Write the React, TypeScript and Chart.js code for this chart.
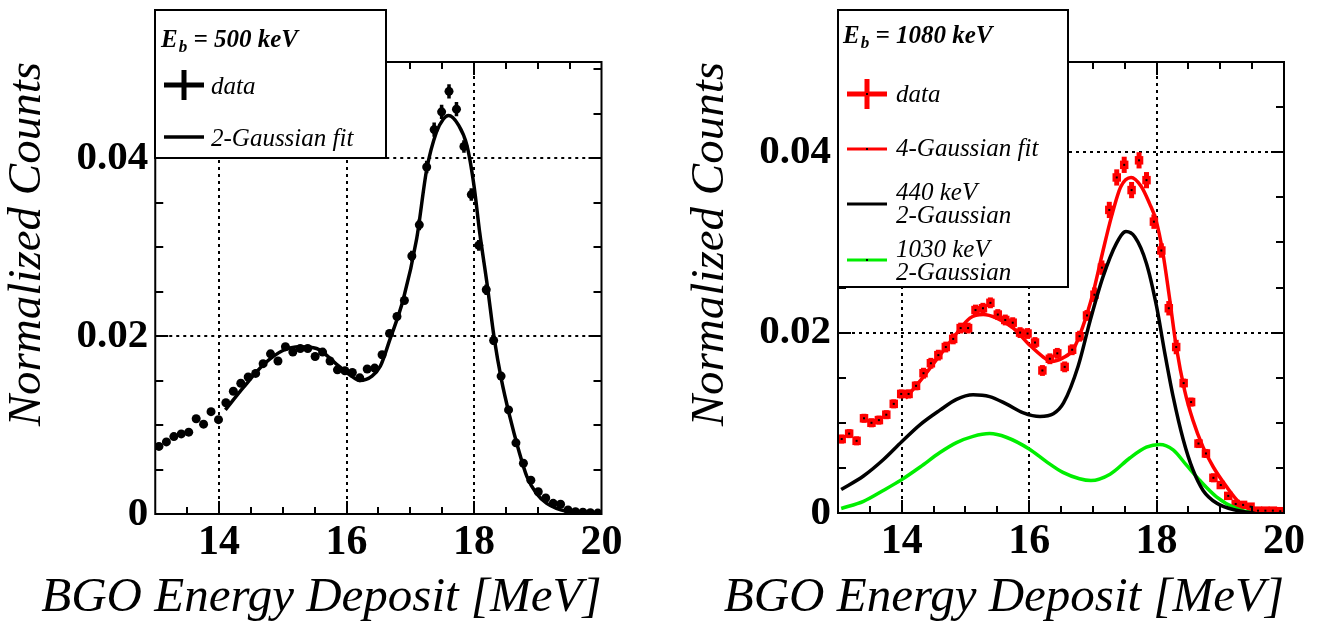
import React, { useEffect, useRef } from "react";
import { Chart, registerables } from "chart.js";
Chart.register(...registerables);

const FONT = "'Liberation Serif', 'Times New Roman', serif";

// Bin centres (MeV), shared by both histograms
const BIN_X = [
  13.058, 13.175, 13.292, 13.408, 13.525, 13.642, 13.758, 13.875, 13.992, 14.108,
  14.225, 14.342, 14.458, 14.575, 14.692, 14.808, 14.925, 15.042, 15.158, 15.275,
  15.392, 15.508, 15.625, 15.742, 15.858, 15.975, 16.092, 16.208, 16.325, 16.442,
  16.558, 16.675, 16.792, 16.908, 17.025, 17.142, 17.258, 17.375, 17.492, 17.608,
  17.725, 17.842, 17.958, 18.075, 18.192, 18.308, 18.425, 18.542, 18.658, 18.775,
  18.892, 19.008, 19.125, 19.242, 19.358, 19.475, 19.592, 19.708, 19.825, 19.942,
];

// Left panel: E_b = 500 keV
const LEFT_DATA = [
  0.0076, 0.0081, 0.0087, 0.009, 0.0092, 0.0107, 0.0101, 0.0115, 0.0106, 0.0125,
  0.0138, 0.0147, 0.0154, 0.0158, 0.0169, 0.018, 0.0172, 0.0188, 0.0182, 0.0186,
  0.0186, 0.0177, 0.0182, 0.0172, 0.0162, 0.0161, 0.0159, 0.0153, 0.0163, 0.0164,
  0.0179, 0.0203, 0.0222, 0.024, 0.029, 0.0325, 0.039, 0.0432, 0.0452, 0.0475,
  0.0455, 0.0413, 0.0359, 0.0302, 0.0252, 0.0195, 0.0155, 0.0117, 0.008, 0.0057,
  0.0038, 0.0025, 0.0018, 0.0012, 0.0011, 0.00045, 0.00026, 0.0002, 0.00015, 0.0001,
];
const LEFT_ERR = [
  0.0003, 0.0003, 0.0003, 0.0003, 0.0003, 0.0003, 0.0003, 0.0003, 0.0003, 0.0003,
  0.0004, 0.0004, 0.0004, 0.0004, 0.0004, 0.0004, 0.0004, 0.0004, 0.0004, 0.0004,
  0.0004, 0.0004, 0.0004, 0.0004, 0.0004, 0.0004, 0.0004, 0.0004, 0.0004, 0.0004,
  0.0004, 0.0004, 0.0004, 0.0004, 0.0006, 0.0006, 0.0007, 0.0008, 0.0008, 0.0008,
  0.0008, 0.0007, 0.0007, 0.0006, 0.0006, 0.0005, 0.0004, 0.0004, 0.0004, 0.0004,
  0.0004, 0.0002, 0.0002, 0.0002, 0.0002, 0.0002, 0.0002, 0.0002, 0.0002, 0.0002,
];
const LEFT_FIT_X = [
  14.1, 14.38, 14.7, 15.01, 15.27, 15.53, 15.85, 16.06, 16.21, 16.4, 16.53, 16.68,
  16.89, 17.1, 17.26, 17.41, 17.52, 17.6, 17.75, 17.89, 18.0, 18.09, 18.21, 18.32,
  18.43, 18.56, 18.7, 18.83, 18.98, 19.14, 19.45, 19.98,
];
const LEFT_FIT_Y = [
  0.0117, 0.0142, 0.0168, 0.0184, 0.0188, 0.0186, 0.0168, 0.0156, 0.015, 0.0155, 0.0166, 0.0196,
  0.0241, 0.0309, 0.0388, 0.0429, 0.0444, 0.0448, 0.0438, 0.0414, 0.0369, 0.0316, 0.0256, 0.0196,
  0.0151, 0.011, 0.0072, 0.0042, 0.0023, 0.0012, 0.0003, 0.0,
];

// Right panel: E_b = 1080 keV
const RIGHT_DATA = [
  0.0082, 0.0088, 0.008, 0.0105, 0.01, 0.0103, 0.0109, 0.0121, 0.0132, 0.0132,
  0.0141, 0.0155, 0.0166, 0.0175, 0.0184, 0.0193, 0.0205, 0.0205, 0.0225, 0.0227,
  0.0233, 0.022, 0.0214, 0.0211, 0.02, 0.0199, 0.0189, 0.0158, 0.0171, 0.0177,
  0.0162, 0.0181, 0.0196, 0.0219, 0.0242, 0.0272, 0.0336, 0.0372, 0.0386, 0.0358,
  0.0391, 0.0369, 0.0323, 0.0291, 0.0227, 0.0184, 0.0144, 0.0123, 0.0077, 0.0066,
  0.0039, 0.0031, 0.0019, 0.001, 0.0009, 0.0007, 0.00026, 0.00026, 0.00026, 0.0002,
];
const RIGHT_ERR = [
  0.0005, 0.0005, 0.0005, 0.0005, 0.0005, 0.0005, 0.0005, 0.0005, 0.0005, 0.0005,
  0.0005, 0.0006, 0.0006, 0.0006, 0.0006, 0.0006, 0.0006, 0.0006, 0.0006, 0.0006,
  0.0006, 0.0006, 0.0006, 0.0006, 0.0006, 0.0006, 0.0006, 0.0006, 0.0006, 0.0006,
  0.0006, 0.0006, 0.0006, 0.0006, 0.0008, 0.0008, 0.0009, 0.0009, 0.0009, 0.0009,
  0.0009, 0.0009, 0.0008, 0.0008, 0.0008, 0.0008, 0.0005, 0.0005, 0.0005, 0.0005,
  0.0005, 0.0003, 0.0003, 0.0003, 0.0003, 0.0003, 0.0003, 0.0003, 0.0003, 0.0003,
];
const FIT4_X = [
  14.06, 14.34, 14.6, 14.86, 15.07, 15.28, 15.49, 15.75, 16.01, 16.22, 16.35, 16.53,
  16.69, 16.84, 17.0, 17.15, 17.29, 17.44, 17.6, 17.76, 17.89, 17.99, 18.1, 18.2,
  18.31, 18.44, 18.57, 18.73, 18.89, 19.1, 19.31, 19.57, 19.94,
];
const FIT4_Y = [
  0.0127, 0.0151, 0.0175, 0.0199, 0.0216, 0.022, 0.0216, 0.0205, 0.0186, 0.0173, 0.0168, 0.0172,
  0.0181, 0.0206, 0.0243, 0.0288, 0.0328, 0.0362, 0.0372, 0.0362, 0.0343, 0.0325, 0.0288, 0.024,
  0.0184, 0.0136, 0.0103, 0.0073, 0.0051, 0.0029, 0.0011, 0.0003, 0.0,
];
const G440_X = [
  13.05, 13.4, 13.71, 14.0, 14.29, 14.6, 14.86, 15.12, 15.38, 15.64, 15.91, 16.17,
  16.38, 16.54, 16.77, 16.96, 17.16, 17.37, 17.52, 17.66, 17.84, 18.0, 18.13, 18.26,
  18.42, 18.57, 18.73, 18.94, 19.25, 19.57, 19.94,
];
const G440_Y = [
  0.0026, 0.0041, 0.0059, 0.0079, 0.0098, 0.0114, 0.0126, 0.0131, 0.0129, 0.0121, 0.0111, 0.0107,
  0.011, 0.0122, 0.0163, 0.0214, 0.0262, 0.0299, 0.0312, 0.0306, 0.0277, 0.0229, 0.0177, 0.0129,
  0.0081, 0.0048, 0.0025, 0.0011, 0.0003, 0.0, 0.0,
];
const G1030_X = [
  13.05, 13.4, 13.71, 14.0, 14.29, 14.6, 14.86, 15.12, 15.38, 15.64, 16.0, 16.27,
  16.53, 16.79, 16.97, 17.27, 17.58, 17.84, 18.05, 18.26, 18.47, 18.68, 18.94, 19.25,
  19.57, 19.94,
];
const G1030_Y = [
  0.0005, 0.0013, 0.0025, 0.0037, 0.0051, 0.0067, 0.0078, 0.0085, 0.0088, 0.0084, 0.0071, 0.0057,
  0.0045, 0.0038, 0.0036, 0.0043, 0.0061, 0.0073, 0.0076, 0.007, 0.0053, 0.0036, 0.0018, 0.0005,
  0.0, 0.0,
];

// Axis ticks / labels / grid
const X_LABELS = [14, 16, 18, 20];
const Y_LABELS = [0, 0.02, 0.04];
const X_GRID = [14, 16, 18];
const Y_GRID = [0.02, 0.04];
const X_TITLE = "BGO Energy Deposit [MeV]";
const Y_TITLE = "Normalized Counts";

const pts = (xs: number[], ys: number[]) => xs.map((x, i) => ({ x, y: ys[i] }));
const near = (v: number, list: number[]) => list.some((l) => Math.abs(l - v) < 1e-6);

type LegendItem =
  | { kind: "cross"; color: string; y: number; dot?: boolean }
  | { kind: "line"; color: string; y: number; width: number; dot?: boolean };

type LegendSpec = {
  box: [number, number, number, number];
  headerX: number;
  headerY: number;
  headerRest: string;
  symX0: number;
  symX1: number;
  textX: number;
  items: { sym: LegendItem; texts: [string, number][] }[];
};

const LEFT_LEGEND: LegendSpec = {
  box: [155, 10, 386, 158],
  headerX: 161,
  headerY: 47,
  headerRest: " = 500 keV",
  symX0: 164,
  symX1: 204,
  textX: 211,
  items: [
    { sym: { kind: "cross", color: "#000", y: 85 }, texts: [["data", 94]] },
    { sym: { kind: "line", color: "#000", y: 137, width: 3.5 }, texts: [["2-Gaussian fit", 146]] },
  ],
};

const RIGHT_LEGEND: LegendSpec = {
  box: [180, 10, 410, 287],
  headerX: 185,
  headerY: 43,
  headerRest: " = 1080 keV",
  symX0: 189,
  symX1: 229,
  textX: 238,
  items: [
    { sym: { kind: "cross", color: "#ff0000", y: 94, dot: true }, texts: [["data", 102]] },
    { sym: { kind: "line", color: "#ff0000", y: 149, width: 3, dot: true }, texts: [["4-Gaussian fit", 156]] },
    { sym: { kind: "line", color: "#000", y: 204, width: 3 }, texts: [["440 keV", 200], ["2-Gaussian", 223]] },
    { sym: { kind: "line", color: "#00ee00", y: 260, width: 3, dot: true }, texts: [["1030 keV", 257], ["2-Gaussian", 280]] },
  ],
};

function drawLegend(ctx: CanvasRenderingContext2D, L: LegendSpec) {
  const [x0, y0, x1, y1] = L.box;
  ctx.save();
  ctx.fillStyle = "#fff";
  ctx.fillRect(x0, y0, x1 - x0, y1 - y0);
  ctx.strokeStyle = "#000";
  ctx.lineWidth = 2;
  ctx.strokeRect(x0, y0, x1 - x0, y1 - y0);
  // header
  ctx.fillStyle = "#000";
  ctx.textBaseline = "alphabetic";
  ctx.textAlign = "left";
  ctx.font = `italic bold 25px ${FONT}`;
  let hx = L.headerX;
  ctx.fillText("E", hx, L.headerY);
  hx += ctx.measureText("E").width + 1;
  ctx.font = `italic bold 17px ${FONT}`;
  ctx.fillText("b", hx, L.headerY + 5);
  hx += ctx.measureText("b").width;
  ctx.font = `italic bold 25px ${FONT}`;
  ctx.fillText(L.headerRest, hx, L.headerY);
  // entries
  const xm = (L.symX0 + L.symX1) / 2;
  L.items.forEach(({ sym, texts }) => {
    ctx.strokeStyle = sym.color;
    ctx.setLineDash([]);
    if (sym.kind === "cross") {
      ctx.lineWidth = 5;
      ctx.beginPath();
      ctx.moveTo(L.symX0, sym.y);
      ctx.lineTo(L.symX1, sym.y);
      ctx.moveTo(xm, sym.y - 15);
      ctx.lineTo(xm, sym.y + 15);
      ctx.stroke();
    } else {
      ctx.lineWidth = sym.width;
      ctx.beginPath();
      ctx.moveTo(L.symX0, sym.y);
      ctx.lineTo(L.symX1, sym.y);
      ctx.stroke();
    }
    if (sym.dot) {
      ctx.fillStyle = "#000";
      ctx.fillRect(xm - 1, sym.y - 1, 2, 2);
    }
    ctx.fillStyle = "#000";
    ctx.font = `italic 25px ${FONT}`;
    texts.forEach(([t, ty]) => ctx.fillText(t, L.textX, ty));
  });
  ctx.restore();
}

type PanelCfg = {
  left: number;
  width: number;
  yMax: number;
  yAxisWidth: number;
  padRight: number;
  xAxisHeight: number;
  yTitlePad: number;
  datasets: any[];
  errX: number[];
  errY: number[];
  err: number[];
  errColor: string;
  errWidth: number;
  centerDots: boolean;
  legend: LegendSpec;
};

function Panel({ cfg }: { cfg: PanelCfg }) {
  const ref = useRef<HTMLCanvasElement>(null);
  useEffect(() => {
    const plugin = {
      id: "rootFrame",
      beforeDatasetsDraw(chart: any) {
        const { ctx, chartArea: a, scales } = chart;
        const x = scales.x, y = scales.y;
        ctx.save();
        ctx.beginPath();
        ctx.rect(a.left, a.top, a.right - a.left, a.bottom - a.top);
        ctx.clip();
        ctx.strokeStyle = "#000";
        ctx.lineWidth = 2;
        ctx.setLineDash([3, 4]);
        X_GRID.forEach((v) => {
          const px = Math.round(x.getPixelForValue(v));
          ctx.beginPath();
          ctx.moveTo(px, a.top);
          ctx.lineTo(px, a.bottom);
          ctx.stroke();
        });
        Y_GRID.forEach((v) => {
          const py = Math.round(y.getPixelForValue(v));
          ctx.beginPath();
          ctx.moveTo(a.left, py);
          ctx.lineTo(a.right, py);
          ctx.stroke();
        });
        ctx.setLineDash([]);
        ctx.strokeStyle = cfg.errColor;
        ctx.lineWidth = cfg.errWidth;
        cfg.errX.forEach((xv, i) => {
          const px = x.getPixelForValue(xv);
          const ya = y.getPixelForValue(cfg.errY[i] - cfg.err[i]);
          const yb = y.getPixelForValue(cfg.errY[i] + cfg.err[i]);
          ctx.beginPath();
          ctx.moveTo(px, ya);
          ctx.lineTo(px, yb);
          ctx.stroke();
        });
        ctx.restore();
      },
      afterDatasetsDraw(chart: any) {
        const { ctx, chartArea: a, scales } = chart;
        const x = scales.x, y = scales.y;
        ctx.save();
        if (cfg.centerDots) {
          ctx.fillStyle = "#000";
          cfg.errX.forEach((xv, i) => {
            const px = x.getPixelForValue(xv);
            const py = y.getPixelForValue(cfg.errY[i]);
            ctx.fillRect(px - 1, py - 1, 2, 2);
          });
        }
        ctx.strokeStyle = "#000";
        ctx.lineWidth = 2;
        ctx.beginPath();
        // inner ticks
        x.ticks.forEach((t: any) => {
          const v = t.value;
          if (v <= 13 + 1e-6 || v >= 20 - 1e-6) return;
          const px = Math.round(x.getPixelForValue(v));
          const len = near(v, X_LABELS) ? 13 : 7;
          ctx.moveTo(px, a.bottom);
          ctx.lineTo(px, a.bottom - len);
          ctx.moveTo(px, a.top);
          ctx.lineTo(px, a.top + len);
        });
        y.ticks.forEach((t: any) => {
          const v = t.value;
          if (v <= 1e-9 || v >= cfg.yMax - 1e-6) return;
          const py = Math.round(y.getPixelForValue(v));
          const len = near(v, Y_LABELS) ? 13 : 8;
          ctx.moveTo(a.left, py);
          ctx.lineTo(a.left + len, py);
          ctx.moveTo(a.right, py);
          ctx.lineTo(a.right - len, py);
        });
        ctx.stroke();
        ctx.strokeRect(a.left, a.top, a.right - a.left, a.bottom - a.top);
        ctx.restore();
      },
      afterDraw(chart: any) {
        const { ctx, chartArea: a } = chart;
        // x-axis title, right-aligned to the axis end (drawn without width squeezing)
        ctx.save();
        ctx.fillStyle = "#000";
        ctx.font = `italic 49px ${FONT}`;
        ctx.textAlign = "right";
        ctx.textBaseline = "alphabetic";
        ctx.fillText(X_TITLE, a.right, 611);
        ctx.restore();
        drawLegend(ctx, cfg.legend);
      },
    };

    const chart = new Chart(ref.current as HTMLCanvasElement, {
      type: "scatter",
      data: { datasets: cfg.datasets },
      options: {
        animation: false,
        responsive: false,
        maintainAspectRatio: false,
        devicePixelRatio: 1,
        layout: { padding: { left: 0, right: cfg.padRight, top: 62, bottom: 0 } },
        plugins: { legend: { display: false }, tooltip: { enabled: false } },
        scales: {
          x: {
            type: "linear",
            min: 13,
            max: 20,
            afterFit: (s: any) => {
              s.height = cfg.xAxisHeight;
            },
            grid: { display: false, drawTicks: false },
            border: { display: false },
            ticks: {
              stepSize: 0.5,
              autoSkip: false,
              maxRotation: 0,
              includeBounds: false,
              padding: 8,
              color: "#000",
              font: { family: FONT, size: 42, weight: "bold", lineHeight: 1 },
              callback: (v: any) => (near(Number(v), X_LABELS) ? String(Math.round(Number(v))) : ""),
            },
            title: { display: false },
          },
          y: {
            type: "linear",
            min: 0,
            max: cfg.yMax,
            afterFit: (s: any) => {
              s.width = cfg.yAxisWidth;
            },
            grid: { display: false, drawTicks: false },
            border: { display: false },
            ticks: {
              stepSize: 0.005,
              autoSkip: false,
              includeBounds: false,
              padding: 7,
              color: "#000",
              font: { family: FONT, size: 41, weight: "bold", lineHeight: 1 },
              callback: (v: any) => {
                const n = Number(v);
                if (!near(n, Y_LABELS)) return "";
                return Math.abs(n) < 1e-9 ? "0" : n.toFixed(2);
              },
            },
            title: {
              display: true,
              text: Y_TITLE,
              align: "end",
              color: "#000",
              font: { family: FONT, size: 47, style: "italic", lineHeight: 1 },
              padding: { top: cfg.yTitlePad, bottom: 0 },
            },
          },
        },
      } as any,
      plugins: [plugin],
    });
    return () => chart.destroy();
  }, []);
  return (
    <canvas
      ref={ref}
      width={cfg.width}
      height={622}
      style={{ position: "absolute", left: cfg.left, top: 0, width: cfg.width, height: 622 }}
    />
  );
}

const leftCfg: PanelCfg = {
  left: 0,
  width: 658,
  yMax: 0.0508,
  yAxisWidth: 155.25,
  padRight: 56.5,
  xAxisHeight: 108,
  yTitlePad: 4,
  datasets: [
    {
      label: "2-Gaussian fit",
      data: pts(LEFT_FIT_X, LEFT_FIT_Y),
      showLine: true,
      borderColor: "#000",
      borderWidth: 3.5,
      pointRadius: 0,
      cubicInterpolationMode: "monotone",
    },
    {
      label: "data",
      data: pts(BIN_X, LEFT_DATA),
      showLine: false,
      pointStyle: "circle",
      pointRadius: 4.5,
      backgroundColor: "#000",
      borderColor: "#000",
      borderWidth: 0,
    },
  ],
  errX: BIN_X,
  errY: LEFT_DATA,
  err: LEFT_ERR,
  errColor: "#000",
  errWidth: 3.5,
  centerDots: false,
  legend: LEFT_LEGEND,
};

const rightCfg: PanelCfg = {
  left: 658,
  width: 659,
  yMax: 0.05,
  yAxisWidth: 180,
  padRight: 33,
  xAxisHeight: 109,
  yTitlePad: 29,
  datasets: [
    {
      label: "4-Gaussian fit",
      data: pts(FIT4_X, FIT4_Y),
      showLine: true,
      borderColor: "#ff0000",
      borderWidth: 3.5,
      pointRadius: 0,
      cubicInterpolationMode: "monotone",
    },
    {
      label: "440 keV 2-Gaussian",
      data: pts(G440_X, G440_Y),
      showLine: true,
      borderColor: "#000",
      borderWidth: 3.5,
      pointRadius: 0,
      cubicInterpolationMode: "monotone",
    },
    {
      label: "1030 keV 2-Gaussian",
      data: pts(G1030_X, G1030_Y),
      showLine: true,
      borderColor: "#00ee00",
      borderWidth: 3.5,
      pointRadius: 0,
      cubicInterpolationMode: "monotone",
    },
    {
      label: "data",
      data: pts(BIN_X, RIGHT_DATA),
      showLine: false,
      pointStyle: "rect",
      pointRadius: 6,
      backgroundColor: "#ff0000",
      borderColor: "#ff0000",
      borderWidth: 0,
    },
  ],
  errX: BIN_X,
  errY: RIGHT_DATA,
  err: RIGHT_ERR,
  errColor: "#ff0000",
  errWidth: 5,
  centerDots: true,
  legend: RIGHT_LEGEND,
};

export default function App() {
  return (
    <div style={{ position: "fixed", left: 0, top: 0, width: 1317, height: 622, background: "#fff" }}>
      <Panel cfg={leftCfg} />
      <Panel cfg={rightCfg} />
    </div>
  );
}
